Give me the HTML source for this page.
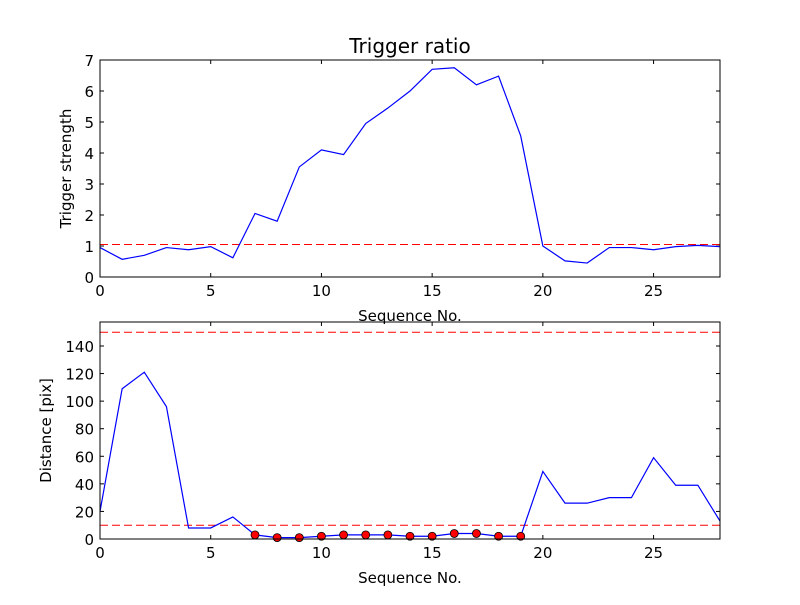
<!DOCTYPE html>
<html><head><meta charset="utf-8"><style>
body{margin:0;background:#fff;}
svg{font-family:"DejaVu Sans","Liberation Sans",sans-serif;}
</style></head><body>
<svg id="c" width="800" height="600" viewBox="0 0 800 600"></svg>
<script>
const seq = [0,1,2,3,4,5,6,7,8,9,10,11,12,13,14,15,16,17,18,19,20,21,22,23,24,25,26,27,28];
const ratio = [0.95,0.57,0.7,0.95,0.88,0.98,0.62,2.05,1.8,3.55,4.1,3.95,4.95,5.45,6.0,6.7,6.75,6.2,6.48,4.55,1.0,0.52,0.45,0.95,0.95,0.88,0.98,1.02,0.98];
const ratioThreshold = 1.05;
const distance = [20,109,121,96,8,8,16,3,1,1,2,3,3,3,2,2,4,4,2,2,49,26,26,30,30,59,39,39,13];
const distThresholds = [10,150];
const markerIdx = [7,8,9,10,11,12,13,14,15,16,17,18,19];
const xTicks = [0,5,10,15,20,25];
const yTicksTop = [0,1,2,3,4,5,6,7];
const yTicksBot = [0,20,40,60,80,100,120,140];

const NS="http://www.w3.org/2000/svg";
const svg=document.getElementById('c');
function mk(tag,attrs,parent){const e=document.createElementNS(NS,tag);for(const k in attrs)e.setAttribute(k,attrs[k]);(parent||svg).appendChild(e);return e;}

function panel(name,top,bot,ymax,yticks,xlabel,ylabel,title){
  const L=100,R=720;
  const xs=v=>L+(v-0)/(28-0)*(R-L);
  const ys=v=>bot-(v/ymax)*(bot-top);
  const g=mk('g',{});
  
  
  xTicks.forEach(t=>{
    mk('line',{x1:xs(t),x2:xs(t),y1:bot,y2:bot-4,stroke:'#000'},g);
    mk('line',{x1:xs(t),x2:xs(t),y1:top,y2:top+4,stroke:'#000'},g);
    const tx=mk('text',{x:xs(t),y:bot+19,'text-anchor':'middle','font-size':15},g);
    tx.textContent=t;
    
    
  });
  yticks.forEach(t=>{
    mk('line',{x1:L,x2:L+4,y1:ys(t),y2:ys(t),stroke:'#000'},g);
    mk('line',{x1:R,x2:R-4,y1:ys(t),y2:ys(t),stroke:'#000'},g);
    const tx=mk('text',{x:L-6,y:ys(t)+6,'text-anchor':'end','font-size':15},g);
    tx.textContent=t;
    
    
  });
  const xl=mk('text',{x:(L+R)/2,y:bot+44,'text-anchor':'middle','font-size':15},g);
  xl.textContent=xlabel;
  
  
  const yl=mk('text',{x:0,y:0,'text-anchor':'middle','font-size':15,transform:`translate(${ylabel[1]},${(top+bot)/2}) rotate(-90)`},g);
  yl.textContent=ylabel[0];
  
  
  if(title){const t=mk('text',{x:(L+R)/2,y:top-7,'text-anchor':'middle','font-size':20},g);t.textContent=title;
    
    }
  const cp=mk('clipPath',{id:name+'-clip'},g);mk('rect',{x:L,y:top,width:R-L,height:bot-top},cp);
  const plot=mk('g',{'clip-path':`url(#${name}-clip)`},g);
  return {g,plot,xs,ys,L,R,top,bot};
}

const P1=panel('top-panel',60,277,7,yTicksTop,'Sequence No.',['Trigger strength',71],'Trigger ratio');
const th1=mk('line',{x1:P1.L,x2:P1.R,y1:P1.ys(ratioThreshold),y2:P1.ys(ratioThreshold),stroke:'#f00','stroke-dasharray':'8,4'},P1.plot);


const l1=mk('polyline',{points:seq.map((s,i)=>P1.xs(s)+','+P1.ys(ratio[i])).join(' '),fill:'none',stroke:'#00f','stroke-width':1.2},P1.plot);


mk('rect',{x:P1.L,y:P1.top,width:P1.R-P1.L,height:P1.bot-P1.top,fill:'none',stroke:'#000'},P1.g);

const P2=panel('bottom-panel',322,539,157.4,yTicksBot,'Sequence No.',['Distance [pix]',51],null);
distThresholds.forEach(v=>{
  const t=mk('line',{x1:P2.L,x2:P2.R,y1:P2.ys(v),y2:P2.ys(v),stroke:'#f00','stroke-dasharray':'8,4'},P2.plot);
  
  
});
const l2=mk('polyline',{points:seq.map((s,i)=>P2.xs(s)+','+P2.ys(distance[i])).join(' '),fill:'none',stroke:'#00f','stroke-width':1.2},P2.plot);


markerIdx.forEach(i=>{
  const c=mk('circle',{cx:P2.xs(seq[i]),cy:P2.ys(distance[i]),r:4,fill:'#f00',stroke:'#000','stroke-width':0.8},P2.g);
  
  
});
mk('rect',{x:P2.L,y:P2.top,width:P2.R-P2.L,height:P2.bot-P2.top,fill:'none',stroke:'#000'},P2.g);
</script>
</body></html>
